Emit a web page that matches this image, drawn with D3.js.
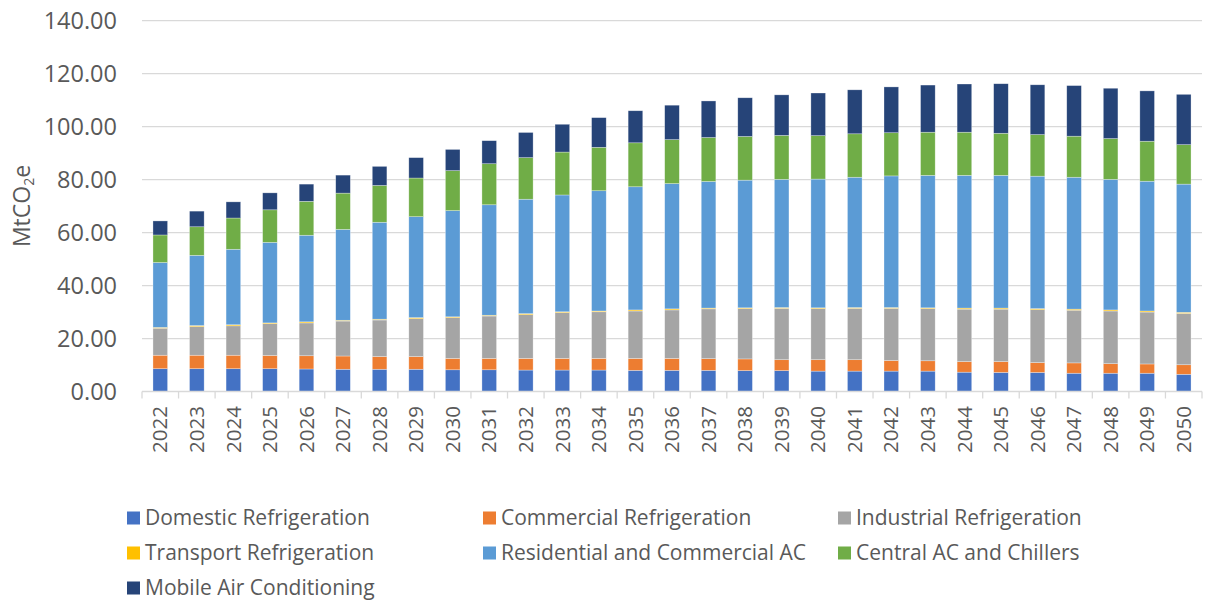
<!DOCTYPE html>
<html>
<head>
<meta charset="utf-8">
<script src="https://cdn.jsdelivr.net/npm/d3@7"></script>
<style>
  html, body { margin: 0; padding: 0; background: #fff; }
  svg { display: block; font-family: 'Open Sans', sans-serif; }
</style>
</head>
<body>
<svg id="chart" width="1206" height="602"></svg>
<script>
// ── Data (MtCO2e by sector) ──
const years = d3.range(2022, 2051).map(String);

const domestic    = [8.6, 8.6, 8.6, 8.6, 8.5, 8.4, 8.4, 8.4, 8.2, 8.2, 8.1, 8.1, 8.1, 8.0, 8.0,
                     8.0, 7.9, 7.9, 7.7, 7.7, 7.7, 7.7, 7.3, 7.2, 7.2, 6.9, 6.9, 6.9, 6.5];
const commercial  = [5.1, 5.1, 5.1, 5.0, 5.0, 5.0, 4.8, 4.8, 4.3, 4.3, 4.4, 4.4, 4.4, 4.5, 4.5,
                     4.4, 4.4, 4.1, 4.3, 4.3, 4.0, 3.9, 4.0, 4.1, 3.7, 3.9, 3.6, 3.5, 3.6];
const industrial  = [10.2, 10.8, 11.1, 12.0, 12.4, 13.2, 13.8, 14.3, 15.4, 16.0, 16.5, 17.3, 17.6, 17.9, 18.3,
                     18.8, 19.0, 19.4, 19.3, 19.4, 19.7, 19.7, 19.8, 19.8, 20.0, 19.9, 19.9, 19.6, 19.4];
const transport   = [0.3, 0.4, 0.4, 0.3, 0.4, 0.3, 0.3, 0.4, 0.3, 0.3, 0.4, 0.3, 0.3, 0.4, 0.4,
                     0.3, 0.3, 0.3, 0.3, 0.3, 0.3, 0.3, 0.4, 0.4, 0.4, 0.4, 0.4, 0.4, 0.4];
const residential = [24.5, 26.5, 28.5, 30.4, 32.7, 34.3, 36.6, 38.1, 40.1, 41.7, 43.2, 44.1, 45.4, 46.5, 47.3,
                     47.8, 48.2, 48.4, 48.6, 49.2, 49.7, 50.0, 50.1, 50.1, 50.0, 49.8, 49.3, 49.0, 48.4];
const central     = [10.4, 10.8, 11.8, 12.3, 12.8, 13.7, 13.9, 14.6, 15.1, 15.5, 15.7, 16.2, 16.4, 16.6, 16.6,
                     16.6, 16.5, 16.6, 16.4, 16.4, 16.3, 16.3, 16.3, 15.9, 15.7, 15.5, 15.4, 15.1, 14.9];
const mobile      = [5.3, 5.9, 6.1, 6.4, 6.5, 6.8, 7.2, 7.7, 8.0, 8.7, 9.5, 10.5, 11.2, 12.1, 13.0,
                     13.8, 14.6, 15.3, 16.1, 16.6, 17.3, 17.8, 18.2, 18.7, 18.8, 19.1, 19.0, 19.0, 19.0];

const seriesNames = ['Domestic Refrigeration', 'Commercial Refrigeration', 'Industrial Refrigeration',
                     'Transport Refrigeration', 'Residential and Commercial AC', 'Central AC and Chillers',
                     'Mobile Air Conditioning'];
const seriesValues = [domestic, commercial, industrial, transport, residential, central, mobile];
const seriesColors = ['#4472C4', '#ED7D31', '#A5A5A5', '#FFC000', '#5B9BD5', '#70AD47', '#264478'];

const yTicks = d3.range(0, 141, 20);

// ── Layout ──
const X0 = 142, X1 = 1202;
const Y0 = 391.5, Y1 = 20.7;

const svg = d3.select('#chart');

const x = d3.scaleBand().domain(years).range([X0, X1]).paddingInner(0.6).paddingOuter(0.3);
const xb = d3.scaleBand().domain(years).range([X0, X1]);   // category boundaries for ticks
const y = d3.scaleLinear().domain([0, 140]).range([Y0, Y1]);

// gridlines
svg.append('g')
  .selectAll('line').data(yTicks.slice(1)).join('line')
  .attr('x1', X0).attr('x2', X1)
  .attr('y1', d => y(d)).attr('y2', d => y(d))
  .attr('stroke', '#d9d9d9').attr('stroke-width', 1.3);

// y tick labels
svg.append('g')
  .selectAll('text').data(yTicks).join('text')
  .attr('x', 117).attr('y', d => y(d))
  .attr('dy', '0.35em')
  .attr('text-anchor', 'end')
  .attr('font-size', 23.5)
  .attr('fill', '#595959')
  .text(d => d3.format('.2f')(d));

// y title
const yt = svg.append('text')
  .attr('transform', 'translate(30,206) rotate(-90)')
  .attr('text-anchor', 'middle')
  .attr('font-size', 23)
  .attr('fill', '#595959');
yt.append('tspan').text('MtCO');
yt.append('tspan').attr('font-size', 14).attr('dy', 4).text('2');
yt.append('tspan').attr('dy', -4).text('e');

// stacked bars
const rows = years.map((yr, i) => {
  const r = { year: yr };
  seriesNames.forEach((s, k) => { r[s] = seriesValues[k][i]; });
  return r;
});
const stacked = d3.stack().keys(seriesNames)(rows);

svg.append('g')
  .selectAll('g').data(stacked).join('g')
  .attr('fill', (d, i) => seriesColors[i])
  .selectAll('rect').data(d => d).join('rect')
  .attr('x', d => x(d.data.year))
  .attr('width', x.bandwidth())
  .attr('y', d => y(d[1]))
  .attr('height', d => y(d[0]) - y(d[1]))
  .attr('stroke', '#fff').attr('stroke-opacity', 0.5).attr('stroke-width', 0.6);

// x axis line + ticks
const xa = svg.append('g').attr('stroke', '#d9d9d9').attr('stroke-width', 1.3);
xa.append('line').attr('x1', X0).attr('x2', X1).attr('y1', Y0).attr('y2', Y0);
xa.selectAll('line.tk').data(years.concat(['end'])).join('line')
  .attr('class', 'tk')
  .attr('x1', (d, i) => X0 + i * xb.step()).attr('x2', (d, i) => X0 + i * xb.step())
  .attr('y1', Y0).attr('y2', Y0 + 7);

// x labels
svg.append('g')
  .selectAll('text').data(years).join('text')
  .attr('transform', d => `translate(${x(d) + x.bandwidth() / 2},406) rotate(-90)`)
  .attr('dy', '0.35em')
  .attr('text-anchor', 'end')
  .attr('font-size', 20.5)
  .attr('fill', '#595959')
  .text(d => d);

// legend
const legendPos = [[127, 518], [483, 518], [838, 518], [127, 553], [483, 553], [838, 553], [127, 588]];
const lg = svg.append('g')
  .selectAll('g').data(seriesNames).join('g')
  .attr('transform', (d, i) => `translate(${legendPos[i][0]},${legendPos[i][1]})`);
lg.append('rect')
  .attr('x', 0).attr('y', -6.5).attr('width', 13).attr('height', 13)
  .attr('fill', (d, i) => seriesColors[i]);
lg.append('text')
  .attr('x', 18).attr('dy', '0.35em')
  .attr('font-size', 21)
  .attr('fill', '#595959')
  .text(d => d);
</script>
</body>
</html>
